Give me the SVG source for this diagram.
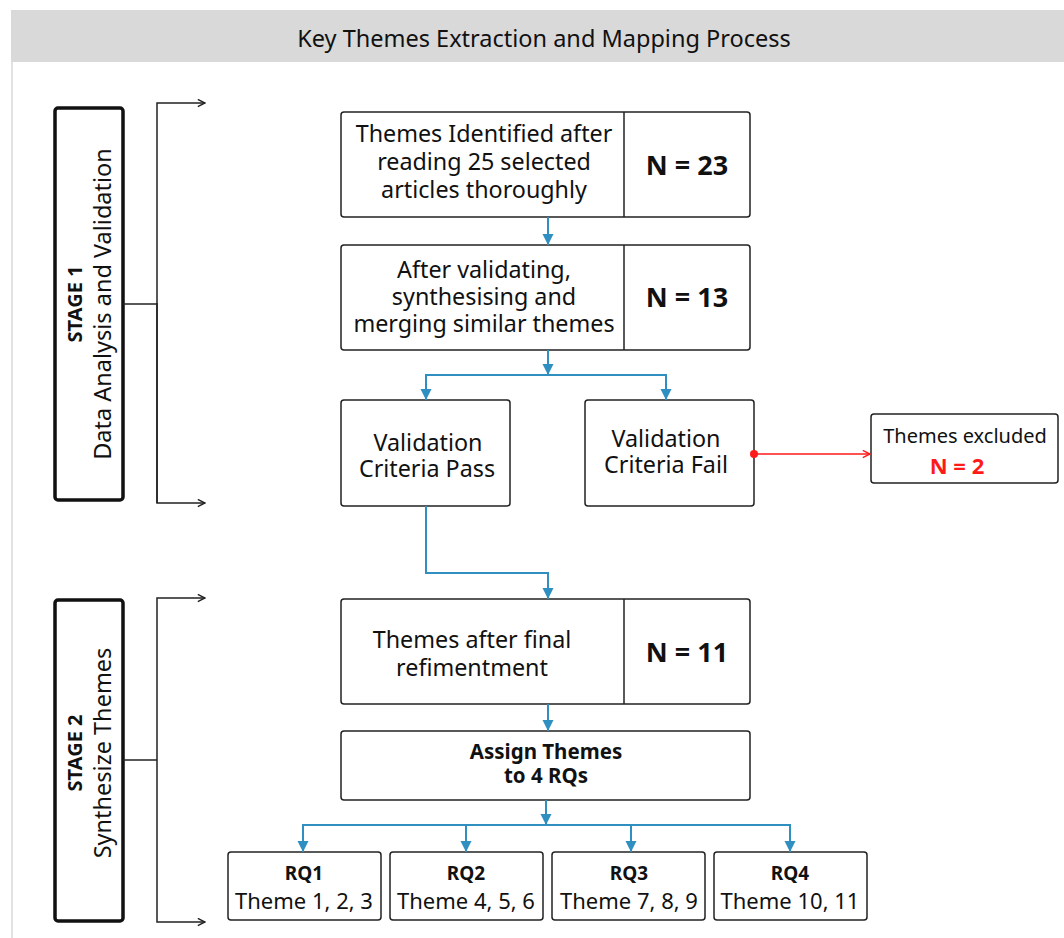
<svg xmlns="http://www.w3.org/2000/svg" width="1064" height="938" viewBox="0 0 1064 938">
  <style>
    .box { fill: #ffffff; stroke: #222222; stroke-width: 1.5; }
    .stage { fill: #ffffff; stroke: #111111; stroke-width: 3.5; }
    .t { font-family: "Noto Sans", "Open Sans", sans-serif; fill: #111111; text-anchor: middle; }
    .body { font-size: 23.3px; }
    .num { font-size: 27px; font-weight: bold; }
    .small { font-size: 19px; }
    .bold { font-weight: bold; }
    .flow { fill: none; stroke: #2f8fc0; stroke-width: 2; }
    .bracket { fill: none; stroke: #222222; stroke-width: 1.5; }
    .excl { fill: none; stroke: #ff1a1a; stroke-width: 1.5; }
  </style>
  <defs>
    <marker id="blueHead" viewBox="0 0 10 10" refX="10" refY="5" markerWidth="11" markerHeight="12" markerUnits="userSpaceOnUse" orient="auto">
      <path d="M0,0 L10,5 L0,10 z" fill="#2f8fc0"/>
    </marker>
    <marker id="openHead" viewBox="0 0 10 10" refX="9" refY="5" markerWidth="9" markerHeight="9" markerUnits="userSpaceOnUse" orient="auto">
      <path d="M1,1 L9,5 L1,9" fill="none" stroke="#222222" stroke-width="1.6"/>
    </marker>
    <marker id="redHead" viewBox="0 0 10 10" refX="9" refY="5" markerWidth="9" markerHeight="9" markerUnits="userSpaceOnUse" orient="auto">
      <path d="M1,1 L9,5 L1,9" fill="none" stroke="#ff1a1a" stroke-width="1.6"/>
    </marker>
  </defs>

  <!-- page frame and title band -->
  <rect x="0" y="0" width="1064" height="938" fill="#ffffff"/>
  <line x1="12" y1="62" x2="12" y2="938" stroke="#e2e2e2" stroke-width="2"/>
  <rect x="11" y="10" width="1053" height="52" fill="#d9d9d9"/>
  <text class="t" x="544" y="47" font-size="23.5">Key Themes Extraction and Mapping Process</text>

  <!-- stage labels -->
  <g id="stage1">
    <rect class="stage" x="55" y="108" width="68" height="392" rx="3"/>
    <text class="t bold" font-size="20" transform="translate(82,304) rotate(-90)">STAGE 1</text>
    <text class="t" font-size="23.5" transform="translate(111,304) rotate(-90)">Data Analysis and Validation</text>
  </g>
  <g id="stage2">
    <rect class="stage" x="55" y="600" width="68" height="321" rx="3"/>
    <text class="t bold" font-size="20" transform="translate(82,753) rotate(-90)">STAGE 2</text>
    <text class="t" font-size="23.5" transform="translate(111,753) rotate(-90)">Synthesize Themes</text>
  </g>

  <!-- process nodes -->
  <g id="identified">
    <rect class="box" x="341" y="112" width="409" height="105" rx="3"/>
    <line x1="624" y1="112" x2="624" y2="217" stroke="#222222" stroke-width="1.5"/>
    <text class="t body" x="484" y="142">Themes Identified after</text>
    <text class="t body" x="484" y="170">reading 25 selected</text>
    <text class="t body" x="484" y="198">articles thoroughly</text>
    <text class="t num" x="687" y="175">N = 23</text>
  </g>
  <g id="merged">
    <rect class="box" x="341" y="245" width="409" height="105" rx="3"/>
    <line x1="624" y1="245" x2="624" y2="350" stroke="#222222" stroke-width="1.5"/>
    <text class="t body" x="484" y="278">After validating,</text>
    <text class="t body" x="484" y="305">synthesising and</text>
    <text class="t body" x="484" y="332">merging similar themes</text>
    <text class="t num" x="687" y="307">N = 13</text>
  </g>
  <g id="pass">
    <rect class="box" x="341" y="400" width="169" height="106" rx="3"/>
    <text class="t body" x="428" y="451">Validation</text>
    <text class="t body" x="427" y="477">Criteria Pass</text>
  </g>
  <g id="fail">
    <rect class="box" x="585" y="400" width="169" height="106" rx="3"/>
    <text class="t body" x="666" y="447">Validation</text>
    <text class="t body" x="666" y="473">Criteria Fail</text>
  </g>
  <g id="excluded">
    <rect class="box" x="871" y="414" width="187" height="69" rx="3"/>
    <text class="t" x="965" y="443" font-size="20">Themes excluded</text>
    <text class="t bold" x="957" y="474" font-size="22" style="fill:#ff1a1a">N = 2</text>
  </g>
  <g id="refined">
    <rect class="box" x="341" y="599" width="409" height="105" rx="3"/>
    <line x1="624" y1="599" x2="624" y2="704" stroke="#222222" stroke-width="1.5"/>
    <text class="t body" x="472" y="648">Themes after final</text>
    <text class="t body" x="472" y="676">refimentment</text>
    <text class="t num" x="687" y="662">N = 11</text>
  </g>
  <g id="assign">
    <rect class="box" x="341" y="731" width="409" height="69" rx="3"/>
    <text class="t bold" x="546" y="759" font-size="20.5">Assign Themes</text>
    <text class="t bold" x="546" y="783" font-size="20.5">to 4 RQs</text>
  </g>
  <g id="rq1">
    <rect class="box" x="228" y="852" width="153" height="68" rx="3"/>
    <text class="t small bold" x="304" y="880">RQ1</text>
    <text class="t" font-size="22" x="304" y="909">Theme 1, 2, 3</text>
  </g>
  <g id="rq2">
    <rect class="box" x="390" y="852" width="153" height="68" rx="3"/>
    <text class="t small bold" x="466" y="880">RQ2</text>
    <text class="t" font-size="22" x="466" y="909">Theme 4, 5, 6</text>
  </g>
  <g id="rq3">
    <rect class="box" x="552" y="852" width="153" height="68" rx="3"/>
    <text class="t small bold" x="629" y="880">RQ3</text>
    <text class="t" font-size="22" x="629" y="909">Theme 7, 8, 9</text>
  </g>
  <g id="rq4">
    <rect class="box" x="714" y="852" width="153" height="68" rx="3"/>
    <text class="t small bold" x="790" y="880">RQ4</text>
    <text class="t" font-size="22" x="790" y="909">Theme 10, 11</text>
  </g>

  <!-- connectors -->
  <g id="connectors">
    <!-- stage brackets -->
    <path class="bracket" d="M123,304 H157"/>
    <path class="bracket" d="M157,503 V103 H205" marker-end="url(#openHead)"/>
    <path class="bracket" d="M157,303 V503 H205" marker-end="url(#openHead)"/>
    <path class="bracket" d="M123,760 H157"/>
    <path class="bracket" d="M157,760 V598 H205" marker-end="url(#openHead)"/>
    <path class="bracket" d="M157,760 V922 H205" marker-end="url(#openHead)"/>

    <!-- main flow -->
    <path class="flow" d="M548,217 V245" marker-end="url(#blueHead)"/>
    <path class="flow" d="M548,350 V375" marker-end="url(#blueHead)"/>
    <path class="flow" d="M548,375 H426 V400" marker-end="url(#blueHead)"/>
    <path class="flow" d="M548,375 H666 V400" marker-end="url(#blueHead)"/>
    <path class="flow" d="M426,506 V573 H548 V599" marker-end="url(#blueHead)"/>
    <path class="flow" d="M548,704 V731" marker-end="url(#blueHead)"/>
    <path class="flow" d="M546,800 V825" marker-end="url(#blueHead)"/>
    <path class="flow" d="M546,825 H303 V852" marker-end="url(#blueHead)"/>
    <path class="flow" d="M466,825 V852" marker-end="url(#blueHead)"/>
    <path class="flow" d="M631,825 V852" marker-end="url(#blueHead)"/>
    <path class="flow" d="M546,825 H790 V852" marker-end="url(#blueHead)"/>

    <!-- exclusion branch -->
    <path class="excl" d="M754,454 H870" marker-end="url(#redHead)"/>
    <circle cx="754" cy="454" r="4" fill="#ff1a1a"/>
  </g>
</svg>
